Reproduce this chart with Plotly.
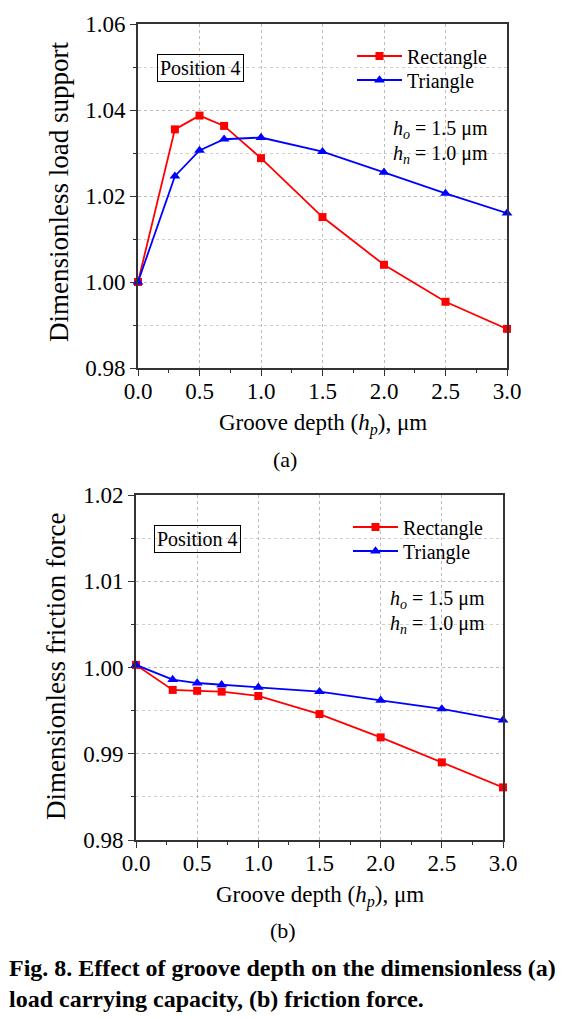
import plotly.graph_objects as go

# ---------------- data ----------------
depth = [0.0, 0.3, 0.5, 0.7, 1.0, 1.5, 2.0, 2.5, 3.0]

load_rect = [1.0000, 1.0355, 1.0387, 1.0363, 1.0288, 1.0151, 1.0040, 0.9954, 0.9891]
load_tri = [1.0000, 1.0246, 1.0306, 1.0332, 1.0336, 1.0303, 1.0255, 1.0206, 1.0160]

fric_rect = [1.0003, 0.9974, 0.9973, 0.9972, 0.9967, 0.9946, 0.9919, 0.9890, 0.9861]
fric_tri = [1.0003, 0.9986, 0.9982, 0.9980, 0.9977, 0.9972, 0.9962, 0.9952, 0.9939]

series_names = ["Rectangle", "Triangle"]
x_ticks = [0.0, 0.5, 1.0, 1.5, 2.0, 2.5, 3.0]
load_ticks = [0.98, 1.00, 1.02, 1.04, 1.06]
fric_ticks = [0.98, 0.99, 1.00, 1.01, 1.02]

ylabel_a = "Dimensionless load support"
ylabel_b = "Dimensionless friction force"
xlabel = "Groove depth (<i>h<sub>p</sub></i>), μm"
caption = ("<b>Fig. 8. Effect of groove depth on the dimensionless (a)<br>"
           "load carrying capacity, (b) friction force.</b>")

# ---------------- figure ----------------
W, H = 570, 1019
OFF = 8  # page body margin
FONT = "Liberation Serif, Times New Roman, serif"
RED = "#ff0000"
BLUE = "#0000ff"
AXC = "#333333"


def px_x(p):
    return (p - OFF) / W


def px_y(p):
    return 1 - (p - OFF) / H


fig = go.Figure()


def add_series(y_r, y_t, xa, ya, leg_r, leg_t):
    fig.add_trace(go.Scatter(
        x=depth, y=y_r, mode="lines+markers", name=series_names[0],
        line=dict(color=RED, width=1.8), marker=dict(symbol="square", size=8, color=RED),
        xaxis=xa, yaxis=ya, legend=leg_r, cliponaxis=False))
    fig.add_trace(go.Scatter(
        x=depth, y=y_t, mode="lines+markers", name=series_names[1],
        line=dict(color=BLUE, width=1.8), marker=dict(symbol="triangle-up", size=9.5, color=BLUE),
        xaxis=xa, yaxis=ya, legend=leg_t, cliponaxis=False))


add_series(load_rect, load_tri, "x", "y", "legend", "legend2")
add_series(fric_rect, fric_tri, "x2", "y2", "legend3", "legend4")

axis_common = dict(
    showline=True, linecolor=AXC, linewidth=1.6, mirror=True,
    ticks="outside", ticklen=6, tickwidth=1.3, tickcolor=AXC,
    showgrid=True, gridcolor="#bbbbbb", griddash="dot", gridwidth=1,
    zeroline=False, automargin=False,
    tickfont=dict(family=FONT, size=23, color="black"),
)

xa_common = dict(axis_common, range=[0, 3.0], tickvals=x_ticks, tickformat=".1f",
                 minor=dict(dtick=0.25, ticks="outside", ticklen=3, tickcolor=AXC, showgrid=False),
                 ticklabelstandoff=-4)


def legend_at(x, y):
    return dict(x=px_x(x), y=px_y(y), xanchor="left", yanchor="middle",
                bgcolor="rgba(0,0,0,0)", font=dict(family=FONT, size=20, color="black"),
                itemsizing="trace", itemwidth=45, borderwidth=0)


fig.update_layout(
    template="none",
    width=W, height=H,
    margin=dict(l=0, r=0, t=0, b=0, pad=0),
    paper_bgcolor="white", plot_bgcolor="white",
    font=dict(family=FONT, color="black"),
    xaxis=dict(xa_common, domain=[px_x(138), px_x(507)], anchor="y"),
    yaxis=dict(axis_common, domain=[px_y(368), px_y(24)], anchor="x",
               range=[0.98, 1.06], tickvals=load_ticks, tickformat=".2f",
               minor=dict(dtick=0.01, ticks="outside", ticklen=3, tickcolor=AXC,
                          showgrid=True, gridcolor="#d0d0d0", griddash="dot")),
    xaxis2=dict(xa_common, domain=[px_x(136), px_x(503)], anchor="y2"),
    yaxis2=dict(axis_common, domain=[px_y(840), px_y(495)], anchor="x2",
                range=[0.98, 1.02], tickvals=fric_ticks, tickformat=".2f",
                minor=dict(dtick=0.005, ticks="outside", ticklen=3, tickcolor=AXC,
                           showgrid=True, gridcolor="#d0d0d0", griddash="dot")),
    legend=legend_at(352, 56),
    legend2=legend_at(352, 80),
    legend3=legend_at(348, 527),
    legend4=legend_at(348, 551),
    showlegend=True,
)

ann = []


def text(x, y, s, size=20, **kw):
    d = dict(x=px_x(x), y=px_y(y), xref="paper", yref="paper", text=s, showarrow=False,
             xanchor="center", yanchor="middle",
             font=dict(family=FONT, size=size, color="black"))
    d.update(kw)
    ann.append(d)


# axis titles
text(59, 192, ylabel_a, size=27, textangle=-90)
text(56, 667, ylabel_b, size=27, textangle=-90)
text(323, 424, xlabel, size=23)
text(320, 896, xlabel, size=23)
text(285, 459, "(a)", size=22)
text(283, 930, "(b)", size=22)

# boxed labels
text(200, 68, "Position 4", size=20, bordercolor="black", borderwidth=1, borderpad=2)
text(197, 539, "Position 4", size=20, bordercolor="black", borderwidth=1, borderpad=2)

# parameter text
for (xx, y1, y2) in [(440, 129, 154), (437, 599, 624)]:
    text(xx, y1, "<i>h<sub>o</sub></i> = 1.5 μm", size=20)
    text(xx, y2, "<i>h<sub>n</sub></i> = 1.0 μm", size=20)

# caption
text(8, 983, caption, size=24, xanchor="left", align="left", borderpad=0)

fig.update_layout(annotations=ann)

fig.write_html("out.html")
